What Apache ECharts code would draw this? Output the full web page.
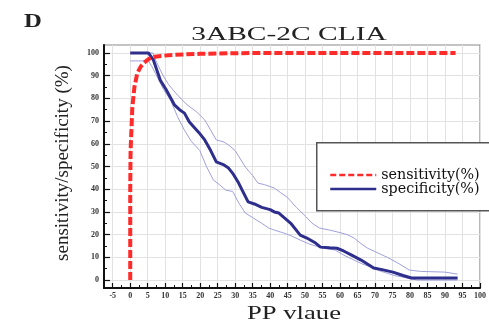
<!DOCTYPE html>
<html>
<head>
<meta charset="utf-8">
<script src="https://cdn.jsdelivr.net/npm/echarts@6/dist/echarts.min.js"></script>
<style>html,body{margin:0;padding:0;background:#fff}#c{width:489px;height:327px}</style>
</head>
<body>
<div id="c"></div>
<script>
// ---- data ----
const xTickLabels = [-5,0,5,10,15,20,25,30,35,40,45,50,55,60,65,70,75,80,85,90,95,100];
const yTickLabels = [0,10,20,30,40,50,60,70,80,90,100];
const xMinorTicks = [-7.5,-2.5,2.5,7.5,12.5,17.5,22.5,27.5,32.5,37.5,42.5,47.5,52.5,57.5,62.5,67.5,72.5,77.5,82.5,87.5,92.5,97.5];
const yMinorTicks = [5,15,25,35,45,55,65,75,85,95];

const sensX = [0,0,0.1,0.6,1.2,2,3,3.9,5,5.8,7,8.8,12,16,20,30,40,93];
const sensY = [0,40,57,76,85,91,94,95.6,97,97.8,98.3,98.7,99.1,99.4,99.6,99.9,100,100];

const specX = [0,5.2,6.6,8.6,10.2,12.7,14.1,15.5,16.9,19.6,21.3,23,24.6,26.8,28,29.3,31,32,33.7,35.5,37.6,40,41.2,42.5,44,45.9,48.6,50.5,53,54.4,57,59.1,61,63.3,66,69.6,72,75.1,78,80.4,93.6];
const specY = [100,100,97,88,84,77,75,73.5,69.6,65,61.7,57,52,50.7,49.5,47,42.7,39.6,34.4,33.5,32,31,30,29.5,27.5,25,19.8,18.5,16.3,14.5,14.2,14,12.8,11,8.8,5.3,4.6,3.5,2,0.9,0.9];

const upX = [0,6.5,7.5,9.4,11,13.5,16,19,21.3,23,24.6,26.8,28.5,30,32.9,35,36.5,38.4,41.2,43,44.8,47.5,50.3,52,54.1,57,59.7,62,64,66,67.9,70,73.5,76.5,79.8,83,90,93.6];
const upY = [100,100,96,90,86,81.5,77.5,74,70.5,66,61.7,60.8,59,57,49.8,46,42.7,42,40.5,38.5,36.6,32,27.8,25,22.9,22,21,20,18.5,16,14,12.5,10,7.5,4.4,3.8,3.5,2.6];

const loX = [0,5.2,6.2,7.2,9.5,11.6,13.5,15.5,17.5,19.9,21.8,23.8,25.5,27.3,29.3,31,32.9,35,37.6,39.5,41.2,43.9,46,48.6,51,54,56,58.6,61,64,66.5,68.8,71,73.5,75.5,77.9,80.7,82,93.6];
const loY = [96.5,96.5,94,91,84,79,72,66,61,57,50,44,42,39.6,39,34,29.5,27.5,25,23,22,20.7,19.5,17.6,16,14.5,13.8,13.2,11,8.8,7,5.7,4.2,3,2,1.3,0.4,0,0];

const zip = (xs, ys) => xs.map((x, i) => [x, ys[i]]);

const serif = 'Liberation Serif';
const chart = echarts.init(document.getElementById('c'), null, {renderer: 'canvas'});
const tickLabel = {fontFamily: serif, fontSize: 8, fontWeight: 'bold', color: '#333'};
const hiddenSymbol = {color: 'rgba(0,0,0,0)', borderColor: 'rgba(0,0,0,0)', borderWidth: 0, opacity: 0};

chart.setOption({
  animation: false,
  backgroundColor: '#fff',
  grid: {left: 104, right: -4, top: 45, bottom: 39, show: true, borderColor: '#8a8a8a', borderWidth: 1.2, backgroundColor: 'transparent'},
  xAxis: [{
    type: 'value', min: -7.5, max: 100, gridIndex: 0,
    axisLine: {show: true, onZero: false, lineStyle: {color: '#111', width: 2}},
    axisTick: {show: true, inside: true, length: 5, customValues: xTickLabels, lineStyle: {color: '#111', width: 1.2}},
    axisLabel: Object.assign({customValues: xTickLabels, margin: 4}, tickLabel),
    splitLine: {show: true, lineStyle: {color: '#e2e2e2', width: 1}}
  }, {
    type: 'value', min: -7.5, max: 100, gridIndex: 0, position: 'bottom',
    axisLine: {show: false, onZero: false},
    axisTick: {show: true, inside: true, length: 3, customValues: xMinorTicks, lineStyle: {color: '#111', width: 1}},
    axisLabel: {show: false}, splitLine: {show: false}
  }],
  yAxis: [{
    type: 'value', min: -3.5, max: 103.5, gridIndex: 0,
    axisLine: {show: true, onZero: false, lineStyle: {color: '#111', width: 2}},
    axisTick: {show: true, inside: true, length: 6, customValues: yTickLabels, lineStyle: {color: '#111', width: 1.2}},
    axisLabel: Object.assign({customValues: yTickLabels, margin: 5}, tickLabel),
    splitLine: {show: true, lineStyle: {color: '#e2e2e2', width: 1}}
  }, {
    type: 'value', min: -3.5, max: 103.5, gridIndex: 0, position: 'left',
    axisLine: {show: false, onZero: false},
    axisTick: {show: true, inside: true, length: 3, customValues: yMinorTicks, lineStyle: {color: '#111', width: 1}},
    axisLabel: {show: false}, splitLine: {show: false}
  }],
  legend: {
    show: true, orient: 'vertical', left: 324, top: 163, z: 20,
    itemWidth: 46, itemHeight: 10, itemGap: 0,
    itemStyle: hiddenSymbol,
    textStyle: {fontFamily: 'DejaVu Serif', fontSize: 14.3, color: '#111', lineHeight: 14},
    data: [
      {name: 'sensitivity(%)', itemStyle: hiddenSymbol, lineStyle: {color: '#ff2a2a', width: 2.5, type: [6, 3]}},
      {name: 'specificity(%)', itemStyle: hiddenSymbol, lineStyle: {color: '#2e2e8c', width: 2.5, type: 'solid'}}
    ]
  },
  graphic: [
    {type: 'rect', left: 316, top: 142, z: 15, shape: {width: 190, height: 68}, style: {fill: '#fff', stroke: '#555', lineWidth: 1.5}},
    {type: 'text', x: 33, y: 22, z: 20, scaleX: 1.3, style: {text: 'D', fontFamily: serif, fontSize: 19, fontWeight: 'bold', fill: '#222', textAlign: 'center', textVerticalAlign: 'middle'}},
    {type: 'text', x: 289, y: 35, z: 20, scaleX: 1.55, style: {text: '3ABC-2C CLIA', fontFamily: serif, fontSize: 19, fill: '#222', textAlign: 'center', textVerticalAlign: 'middle'}},
    {type: 'text', x: 294, y: 314, z: 20, scaleX: 1.48, style: {text: 'PP vlaue', fontFamily: serif, fontSize: 18, fill: '#222', textAlign: 'center', textVerticalAlign: 'middle'}},
    {type: 'text', x: 63, y: 163, z: 20, rotation: Math.PI / 2, style: {text: 'sensitivity/specificity (%)', fontFamily: serif, fontSize: 19, fill: '#222', textAlign: 'center', textVerticalAlign: 'middle'}}
  ],
  series: [
    {name: 'upper', type: 'line', xAxisIndex: 0, yAxisIndex: 0, data: zip(upX, upY), symbol: 'none', lineStyle: {color: '#a0a0dc', width: 1}, z: 2},
    {name: 'lower', type: 'line', xAxisIndex: 0, yAxisIndex: 0, data: zip(loX, loY), symbol: 'none', lineStyle: {color: '#a0a0dc', width: 1}, z: 2},
    {name: 'specificity(%)', type: 'line', xAxisIndex: 0, yAxisIndex: 0, data: zip(specX, specY), symbol: 'none', color: '#2e2e8c', lineStyle: {color: '#2e2e8c', width: 3}, z: 3},
    {name: 'sensitivity(%)', type: 'line', xAxisIndex: 0, yAxisIndex: 0, data: zip(sensX, sensY), symbol: 'none', color: '#ff2a2a', lineStyle: {color: '#ff2a2a', width: 4, type: [8, 3]}, z: 4}
  ]
});
</script>
</body>
</html>
